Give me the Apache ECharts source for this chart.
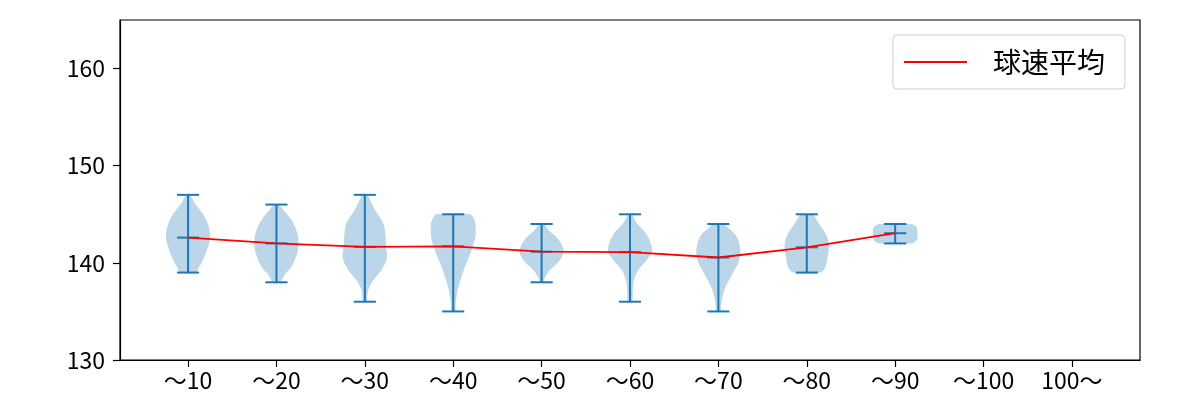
<!DOCTYPE html>
<html>
<head>
<meta charset="utf-8">
<script src="https://cdn.jsdelivr.net/npm/echarts@6/dist/echarts.min.js"></script>
<style>html,body{margin:0;padding:0;background:#fff;}#c{width:1200px;height:400px;}</style>
</head>
<body>
<div id="c"></div>
<script>
const categories = ['～10','～20','～30','～40','～50','～60','～70','～80','～90','～100','100～'];
const minValues = [139,138,136,135,138,136,135,139,142];
const maxValues = [147,146,147,145,144,145,144,145,144];
const meanValues = [142.6,142.0,141.65,141.7,141.15,141.1,140.55,141.6,143.05];
const yTicks = [130,140,150,160];
// violin outlines: [value, relative half-width]
const violinShapes = [
  [[139,0.35],[139.5,0.48],[140.3,0.68],[141.3,0.85],[142.5,1.0],[143.5,0.96],[144.1,0.88],[145.1,0.66],[146.2,0.28],[147,0.08]],
  [[138,0.15],[138.8,0.38],[139.6,0.68],[140.7,0.9],[141.9,1.0],[143.1,0.94],[144.4,0.68],[145.5,0.3],[146,0.1]],
  [[136,0.08],[137.2,0.15],[138.2,0.38],[139.3,0.76],[140.5,1.0],[141.7,0.96],[143.1,0.92],[144.1,0.83],[145.5,0.45],[146.5,0.23],[147,0.1]],
  [[135,0.08],[135.8,0.11],[137.2,0.2],[138.6,0.38],[140,0.6],[141.3,0.83],[142.7,1.0],[144.1,1.0],[144.7,0.9],[145,0.75]],
  [[138,0.1],[138.4,0.13],[139.3,0.38],[140.1,0.76],[141.2,1.0],[142.4,0.76],[143.4,0.3],[144,0.1]],
  [[136,0.1],[136.9,0.12],[138.2,0.18],[139.3,0.38],[140.3,0.76],[141.3,1.0],[142.9,0.76],[144.1,0.3],[145,0.08]],
  [[135,0.1],[135.8,0.13],[137.2,0.27],[138.6,0.57],[140,0.9],[141.2,1.0],[142.7,0.83],[143.6,0.45],[144,0.2]],
  [[139,0.6],[139.5,0.83],[140.7,0.95],[142,1.0],[143.1,0.83],[144.1,0.53],[144.8,0.35],[145,0.25]],
  [[142,0.72],[142.2,0.92],[142.5,1.0],[143.5,1.0],[143.8,0.92],[144,0.72]]
];

const FONT = '"Noto Sans CJK JP", "Noto Sans", sans-serif';
const BLUE = '#1f77b4';
const positions = categories.map((c, i) => i + 1);

const violinData = minValues.map((mn, i) => [i + 1, mn, maxValues[i], meanValues[i], i]);
const meanLine = meanValues.map((m, i) => [i + 1, m]);

function renderViolin(params, api) {
  const x = api.value(0), mn = api.value(1), mx = api.value(2), mean = api.value(3), idx = api.value(4);
  const shape = violinShapes[idx];
  const halfW = api.size([0.25, 0])[0];
  const capW = api.size([0.125, 0])[0];
  const left = [], right = [];
  shape.forEach(([v, w]) => {
    const p = api.coord([x, v]);
    left.push([p[0] - w * halfW, p[1]]);
    right.push([p[0] + w * halfW, p[1]]);
  });
  const pts = left.concat(right.reverse());
  const pMin = api.coord([x, mn]), pMax = api.coord([x, mx]), pMean = api.coord([x, mean]);
  const ls = { stroke: BLUE, lineWidth: 2 };
  return {
    type: 'group',
    children: [
      { type: 'polygon', shape: { points: pts, smooth: 0.35 }, style: { fill: 'rgba(31,119,180,0.3)' } },
      { type: 'line', shape: { x1: pMin[0], y1: pMin[1], x2: pMax[0], y2: pMax[1] }, style: ls },
      { type: 'line', shape: { x1: pMin[0] - capW, y1: pMin[1], x2: pMin[0] + capW, y2: pMin[1] }, style: ls },
      { type: 'line', shape: { x1: pMax[0] - capW, y1: pMax[1], x2: pMax[0] + capW, y2: pMax[1] }, style: ls },
      { type: 'line', shape: { x1: pMean[0] - capW, y1: pMean[1], x2: pMean[0] + capW, y2: pMean[1] }, style: ls }
    ]
  };
}

const chart = echarts.init(document.getElementById('c'), null, { renderer: 'canvas' });
chart.setOption({
  animation: false,
  backgroundColor: '#fff',
  textStyle: { fontFamily: FONT },
  grid: { left: 120, right: 60, top: 20, bottom: 40, show: true, borderColor: '#000', borderWidth: 1.2, backgroundColor: 'transparent' },
  legend: {
    left: 893, top: 35,
    data: [{ name: '球速平均', icon: 'rect' }],
    itemWidth: 63, itemHeight: 2, itemGap: 0,
    padding: [13, 20, 13, 11],
    borderColor: '#d0d0d0', borderWidth: 1, borderRadius: 4, backgroundColor: '#fff',
    itemStyle: { color: '#ff0000', borderWidth: 0 },
    textStyle: { fontSize: 28, fontFamily: FONT, color: '#000', padding: [0, 0, 0, 21], lineHeight: 28 }
  },
  xAxis: {
    type: 'value', min: 0.23, max: 11.77,
    axisLine: { show: true, lineStyle: { color: '#000', width: 1.2 } },
    axisTick: { show: true, length: 7, lineStyle: { color: '#000', width: 1.2 }, customValues: positions },
    axisLabel: { customValues: positions, formatter: v => categories[Math.round(v) - 1], fontSize: 23, color: '#000', margin: 9, fontFamily: FONT },
    splitLine: { show: false }
  },
  yAxis: {
    type: 'value', min: 130, max: 165,
    axisLine: { show: true, lineStyle: { color: '#000', width: 1.2 } },
    axisTick: { show: true, length: 7, lineStyle: { color: '#000', width: 1.2 }, customValues: yTicks },
    axisLabel: { customValues: yTicks, fontSize: 23, color: '#000', margin: 15, fontFamily: FONT },
    splitLine: { show: false }
  },
  series: [
    { type: 'custom', name: 'violins', renderItem: renderViolin, data: violinData, z: 2, encode: { x: 0, y: [1, 2] } },
    { type: 'line', name: '球速平均', data: meanLine, symbol: 'none', showSymbol: false, z: 3, lineStyle: { color: '#ff0000', width: 1.8 }, itemStyle: { color: '#ff0000' } }
  ]
});
</script>
</body>
</html>
